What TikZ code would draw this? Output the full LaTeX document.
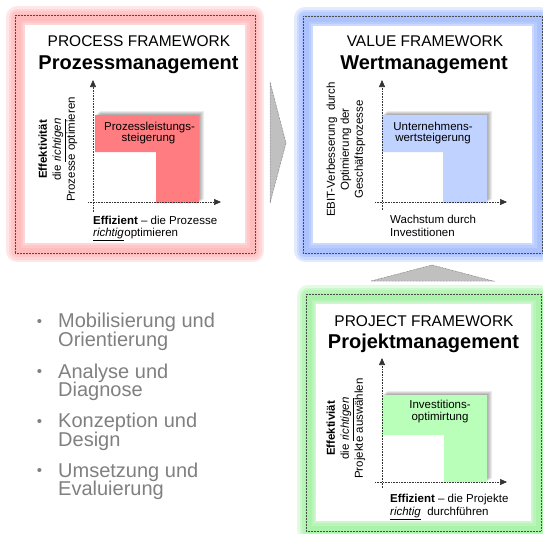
\documentclass[tikz,border=0pt]{standalone}
\usepackage{fontspec}
\setmainfont{Liberation Sans}
\usetikzlibrary{arrows.meta}
\definecolor{glowred}{RGB}{255,150,150}
\definecolor{glowblue}{RGB}{125,160,255}
\definecolor{glowgreen}{RGB}{125,238,125}
\definecolor{fillred}{RGB}{255,124,128}
\definecolor{fillblue}{RGB}{192,210,255}
\definecolor{fillgreen}{RGB}{185,255,185}
\definecolor{arrowgray}{RGB}{192,192,192}
\definecolor{bulletgray}{RGB}{128,128,128}
\tikzset{
  framedots/.style={draw=black!70, line width=0.5pt, dash pattern=on 0.6pt off 0.9pt},
  axisline/.style={draw=black!80, line width=0.6pt, dash pattern=on 0.6pt off 1pt, -{Triangle[length=7pt,width=6pt]}},
  titlefont/.style={inner sep=0pt, anchor=base, font=\fontsize{15.5}{18}\selectfont},
  headfont/.style={inner sep=0pt, anchor=base, font=\fontsize{20}{24}\bfseries\selectfont},
  smallc/.style={inner sep=0pt, anchor=base, font=\fontsize{11.5}{14}\selectfont},
  smalll/.style={inner sep=0pt, anchor=base west, font=\fontsize{11.5}{14}\selectfont},
  sidelabel/.style={inner sep=0pt, anchor=center, rotate=90, align=center, font=\fontsize{11.5}{14}\selectfont},
  bigarrow/.style={fill=arrowgray, draw=black!60, line width=0.5pt, dash pattern=on 0.6pt off 0.9pt},
  bullettext/.style={inner sep=0pt, anchor=base west, text=bulletgray, font=\fontsize{20}{22}\selectfont},
  bulletmark/.style={inner sep=0pt, anchor=base, text=bulletgray, font=\fontsize{15}{17}\selectfont},
}
\newcommand\glowframe[5]{%
  \foreach \w in {22,17,12,7} {\draw[line width=\w pt, #1, opacity=0.22, line join=round] (#2+2,#3+2) rectangle (#4-2,#5-2);}
  \fill[white] (#2+10,#3+10) rectangle (#4-10,#5-10);
  \draw[framedots] (#2,#3) rectangle (#4,#5);
}
\newcommand\lshape[7]{% color, x1,y1,x2,y2, xi, yi
  \foreach \s in {1,2,3,4,5} {\fill[black, opacity=0.07] ([shift={(\s,-0.8*\s)}]#2,#3) -- ++(#4-#2,0) -- ++(0,#5-#3) -- ++(#6-#4,0) -- ++(0,#7-#5) -- ++(#2-#6,0) -- cycle;}
  \fill[#1] (#2,#3) -- (#4,#3) -- (#4,#5) -- (#6,#5) -- (#6,#7) -- (#2,#7) -- cycle;
}
\begin{document}
\begin{tikzpicture}[x=1pt,y=-1pt]
\useasboundingbox (0,0) rectangle (543,533);
\clip (0,0) rectangle (543,533);
\fill[white] (0,0) rectangle (543,533);

% ---------- frames ----------
\glowframe{glowred}{15}{15}{255}{253}
\glowframe{glowblue}{303}{16}{542}{253}
\glowframe{glowgreen}{306}{294}{541}{531}

% ---------- big arrows ----------
\draw[bigarrow] (270,82) -- (286,143) -- (270,203) -- cycle;
\draw[bigarrow] (371,281) -- (432,265) -- (493,281) -- cycle;

% ---------- PROCESS ----------
\node[titlefont] (pt1) at (139,46.7) {PROCESS FRAMEWORK};
\node[headfont] (pt2) at (138.5,69) {Prozessmanagement};
\lshape{fillred}{95}{115}{199}{203}{156}{152}
\coordinate (pyb) at (93,212); \coordinate (pyt) at (93,80);
\coordinate (pxl) at (88,202); \coordinate (pxr) at (221,202);
\draw[axisline] (pyb) -- (pyt);
\draw[axisline] (pxl) -- (pxr);
\node[smallc] (pl1) at (149.5,130) {Prozessleistungs-};
\node[smallc] (pl2) at (148.5,141.7) {steigerung};
\node[sidelabel] (py) at (58,149.5) {\textbf{Effektivität}\\die \underline{\textit{richtigen}}\\Prozesse optimieren};
\node[smalll] (px1) at (93,224) {\textbf{Effizient} -- die Prozesse};
\node[smalll] (px2) at (93,236.7) {\underline{\textit{richtig}}\hspace{0.5pt}optimieren};

% ---------- VALUE ----------
\node[titlefont] (vt1) at (425,46.7) {VALUE FRAMEWORK};
\node[headfont] (vt2) at (424,69) {Wertmanagement};
\lshape{fillblue}{382}{115}{487}{203}{443}{152}
\coordinate (vyb) at (382,210); \coordinate (vyt) at (382,80);
\coordinate (vxl) at (375,202); \coordinate (vxr) at (507,202);
\draw[axisline] (vyb) -- (vyt);
\draw[axisline] (vxl) -- (vxr);
\node[smallc] (vl1) at (433,130) {Unternehmens-};
\node[smallc] (vl2) at (433,141.7) {wertsteigerung};
\node[sidelabel] (vy) at (346,149.5) {EBIT-Verbesserung\ \ durch\\Optimierung der\\Geschäftsprozesse};
\node[smalll] (vx1) at (390,223) {Wachstum durch};
\node[smalll] (vx2) at (390,236.7) {Investitionen};

% ---------- PROJECT ----------
\node[titlefont] (jt1) at (424,326.7) {PROJECT FRAMEWORK};
\node[headfont] (jt2) at (423.5,348.3) {Projektmanagement};
\lshape{fillgreen}{382}{395}{487}{482}{444}{435}
\coordinate (jyb) at (382,488); \coordinate (jyt) at (382,358);
\coordinate (jxl) at (375,482); \coordinate (jxr) at (507,482);
\draw[axisline] (jyb) -- (jyt);
\draw[axisline] (jxl) -- (jxr);
\node[smallc] (jl1) at (440,408.3) {Investitions-};
\node[smallc] (jl2) at (440,420.7) {optimirtung};
\node[sidelabel] (jy) at (346,428.5) {\textbf{Effektiviät}\\die \underline{\textit{richtigen}}\\Projekte auswählen};
\node[smalll] (jx1) at (390,502.7) {\textbf{Effizient} -- die Projekte};
\node[smalll] (jx2) at (390,515.7) {\underline{\textit{richtig}}\ \ durchführen};

% ---------- bullet list ----------
\node[bulletmark] (b1) at (39.5,326) {•};
\node[bullettext] (t1a) at (58,327.7) {Mobilisierung und};
\node[bullettext] (t1b) at (58,346) {Orientierung};
\node[bulletmark] (b2) at (39.5,376.6) {•};
\node[bullettext] (t2a) at (58,378.3) {Analyse und};
\node[bullettext] (t2b) at (58,396.6) {Diagnose};
\node[bulletmark] (b3) at (39.5,426) {•};
\node[bullettext] (t3a) at (58,427.7) {Konzeption und};
\node[bullettext] (t3b) at (58,446) {Design};
\node[bulletmark] (b4) at (39.5,475.6) {•};
\node[bullettext] (t4a) at (58,477.3) {Umsetzung und};
\node[bullettext] (t4b) at (58,495.6) {Evaluierung};
\end{tikzpicture}
\end{document}
